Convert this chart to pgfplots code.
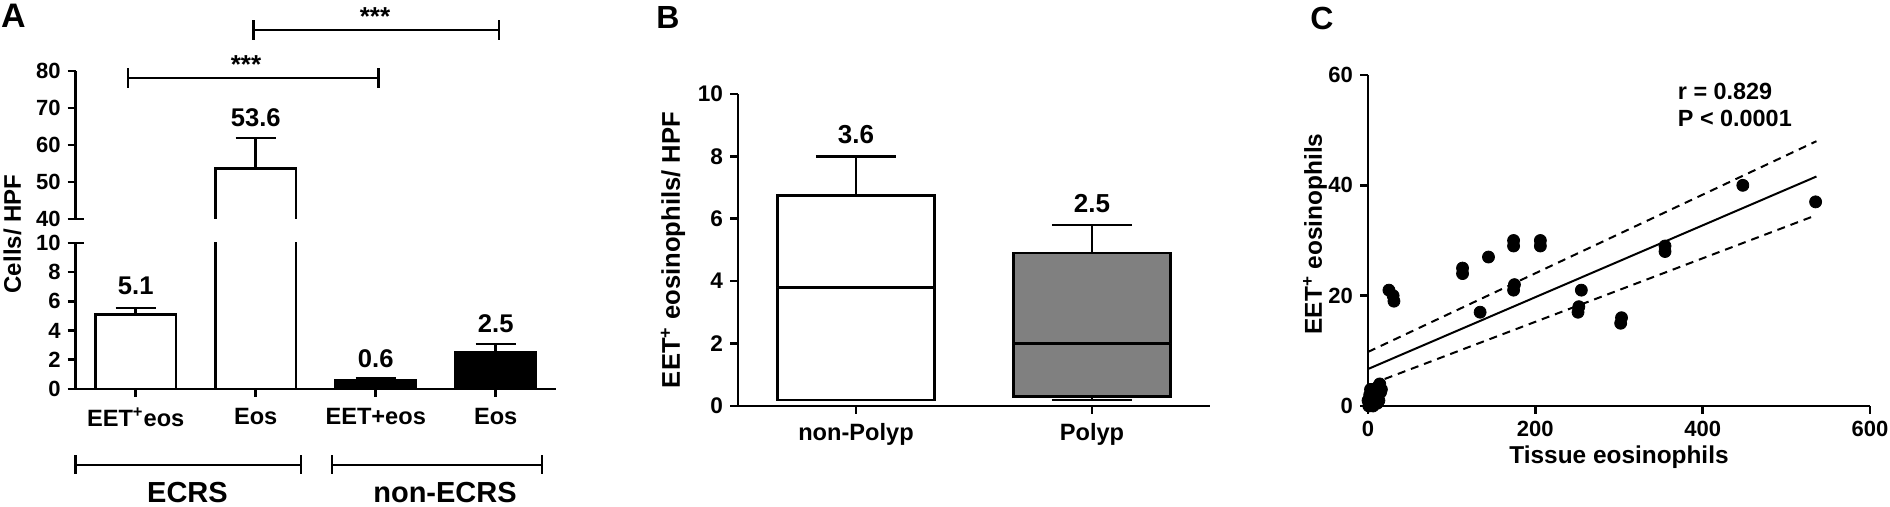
\documentclass[border=0pt]{standalone}
\usepackage{fontspec}
\setmainfont{Liberation Sans}
\usepackage{pgfplots}
\pgfplotsset{compat=1.18}
\usepgfplotslibrary{statistics}

\pgfplotsset{
  base/.style={
    scale only axis,
    axis line style={line width=1.3pt},
    every tick/.style={line width=1.3pt,black},
    tick align=outside,
    major tick length=4pt,
    /pgf/number format/assume math mode=true,
  },
  errs/.style={
    error bars/y dir=plus, error bars/y explicit,
    error bars/error bar style={line width=1.3pt},
    error bars/error mark options={line width=1.3pt, mark size=10pt, rotate=90}},
  bars/.style={ybar, bar shift=0pt, bar width=0.67, draw=black, line width=1.3pt, errs},
}

\begin{document}
\begin{tikzpicture}
\useasboundingbox (0,0) rectangle (945pt,253.5pt);

% ---- A: lower part 0-10
\begin{axis}[base, at={(37.85pt,59pt)}, anchor=south west,
  width=240pt, height=73pt,
  axis x line*=bottom, axis y line*=left,
  xmin=-0.5, xmax=3.5, ymin=0, ymax=10,
  ytick={0,2,...,10}, xtick={0,1,2,3},
  xticklabels={EET\textsuperscript{+}eos,Eos,EET+eos,Eos},
  tick label style={font=\bfseries\fontsize{11}{12}\selectfont},
  x tick label style={font=\bfseries\fontsize{11.8}{13}\selectfont, yshift=-2pt},
]
\addplot[bars, fill=white] coordinates {(0,5.1) +- (0,0.45) (1,53.6) +- (0,8.3)};
\addplot[bars, fill=black] coordinates {(2,0.6) +- (0,0.15) (3,2.5) +- (0,0.58)};
\node[font=\bfseries\fontsize{12.8}{14}\selectfont] at (axis cs:0,7.1) {5.1};
\node[font=\bfseries\fontsize{12.8}{14}\selectfont] at (axis cs:2,2.1) {0.6};
\node[font=\bfseries\fontsize{12.8}{14}\selectfont] at (axis cs:3,4.5) {2.5};
\end{axis}

% ---- A: upper part 40-80
\begin{axis}[base, at={(37.85pt,144pt)}, anchor=south west,
  width=240pt, height=74pt,
  axis x line=none, axis y line*=left,
  xmin=-0.5, xmax=3.5, ymin=40, ymax=80,
  ytick={40,50,...,80},
  tick label style={font=\bfseries\fontsize{11}{12}\selectfont},
]
% bar outline open at the bottom (broken axis), with its error bar
\addplot[black, line width=1.3pt] coordinates {(0.665,30) (0.665,53.6) (1.335,53.6) (1.335,30)};
\addplot[black, mark=none, draw=none, errs] coordinates {(1,53.6) +- (0,8.3)};
\node[font=\bfseries\fontsize{12.8}{14}\selectfont] at (axis cs:1,67.3) {53.6};
\end{axis}

% axis break marks
\draw[line width=1.3pt] (37.85pt,144pt) -- (42pt,144pt);
\draw[line width=1.3pt] (37.85pt,132pt) -- (42pt,132pt);

% ---- B
\begin{axis}[base, at={(369pt,50.5pt)}, anchor=south west,
  width=236pt, height=156pt,
  axis x line*=bottom, axis y line*=left,
  xmin=-0.5, xmax=1.5, ymin=0, ymax=10,
  ytick={0,2,...,10}, xtick={0,1},
  xticklabels={non-Polyp,Polyp},
  tick label style={font=\bfseries\fontsize{11.3}{12}\selectfont},
  x tick label style={font=\bfseries\fontsize{11.8}{13}\selectfont, yshift=-1pt},
  boxplot/draw direction=y,
]
\addplot[draw=black, fill=white, line width=1.2pt,
  boxplot prepared={draw position=0, lower whisker=0.2, lower quartile=0.2,
    median=3.8, upper quartile=6.75, upper whisker=8,
    box extend=0.665, whisker extend=0.34}] coordinates {};
\addplot[draw=black, fill={rgb,255:red,128;green,128;blue,128}, line width=1.2pt,
  boxplot prepared={draw position=1, lower whisker=0.2, lower quartile=0.3,
    median=2, upper quartile=4.9, upper whisker=5.8,
    box extend=0.665, whisker extend=0.34}] coordinates {};
\node[font=\bfseries\fontsize{13}{14}\selectfont] at (axis cs:0,8.7) {3.6};
\node[font=\bfseries\fontsize{13}{14}\selectfont] at (axis cs:1,6.5) {2.5};
\end{axis}

% ---- C
\begin{axis}[base, at={(684pt,50.5pt)}, anchor=south west,
  width=251pt, height=165.5pt,
  axis x line*=bottom, axis y line*=left,
  xmin=0, xmax=600, ymin=0, ymax=60,
  xtick={0,200,400,600}, ytick={0,20,40,60},
  tick label style={font=\bfseries\fontsize{11}{12}\selectfont},
  clip=false,
]
\addplot[black, line width=1pt] coordinates {(0,6.7) (536,41.6)};
\addplot[black, line width=1pt, dash pattern=on 4pt off 3pt] coordinates {(0,9.8) (536,48)};
\addplot[black, line width=1pt, dash pattern=on 4pt off 3pt] coordinates {(20,4.9) (536,34.6)};
\addplot[only marks, mark=*, mark size=3pt, black] coordinates {
  (25,21) (30,20) (31,19) (113,25) (113,24) (144,27) (134,17)
  (174,30) (174,29) (175,22) (174,21) (206,30) (206,29)
  (255,21) (252,18) (251,17) (303,16) (302,15) (355,29) (355,28)
  (448,40) (535,37)
  (0,1) (1,0) (2,2) (3,0.5) (4,1.5) (5,3) (6,0) (7,2) (8,1) (9,3)
  (10,2) (11,0.5) (12,3.5) (13,1) (14,4) (15,2.5) (16,3) (3,3) (6,2)
};
\node[anchor=west, align=left, font=\bfseries\fontsize{11.7}{13.5}\selectfont]
  at (axis cs:362,54.6) {r = 0.829\\P < 0.0001};
\end{axis}

% ---- annotations (absolute, 1px = 0.5pt)
\begin{scope}[line width=1.3pt]
  % significance brackets
  \draw (64pt,214.5pt) -- (189.3pt,214.5pt);
  \draw (64pt,209.5pt) -- (64pt,219.5pt);
  \draw (189.3pt,209.5pt) -- (189.3pt,219.5pt);
  \draw (126.8pt,238.5pt) -- (249.5pt,238.5pt);
  \draw (126.8pt,233.5pt) -- (126.8pt,243.5pt);
  \draw (249.5pt,233.5pt) -- (249.5pt,243.5pt);
  % group brackets
  \draw (37.85pt,21pt) -- (150.5pt,21pt);
  \draw (37.85pt,16.5pt) -- (37.85pt,26pt);
  \draw (150.5pt,16.5pt) -- (150.5pt,26pt);
  \draw (166pt,21pt) -- (271pt,21pt);
  \draw (166pt,16.5pt) -- (166pt,26pt);
  \draw (271pt,16.5pt) -- (271pt,26pt);
\end{scope}
\node[font=\bfseries\fontsize{13}{14}\selectfont] at (123pt,221pt) {***};
\node[font=\bfseries\fontsize{13}{14}\selectfont] at (187.5pt,245pt) {***};
\node[font=\bfseries\fontsize{14.5}{16}\selectfont] at (93.75pt,7pt) {ECRS};
\node[font=\bfseries\fontsize{14.5}{16}\selectfont] at (222.5pt,7pt) {non-ECRS};

% axis labels
\node[rotate=90, font=\bfseries\fontsize{12}{13}\selectfont] at (6.25pt,136.5pt) {Cells/ HPF};
\node[rotate=90, font=\bfseries\fontsize{12.8}{14}\selectfont] at (336.5pt,128.5pt) {EET\textsuperscript{+} eosinophils/ HPF};
\node[rotate=90, font=\bfseries\fontsize{12.2}{13}\selectfont] at (657.5pt,136.5pt) {EET\textsuperscript{+} eosinophils};
\node[font=\bfseries\fontsize{12.2}{13}\selectfont] at (809.5pt,25pt) {Tissue eosinophils};

% panel letters
\node[font=\bfseries\fontsize{17}{19}\selectfont] at (6.7pt,245.5pt) {A};
\node[font=\bfseries\fontsize{16}{18}\selectfont] at (334pt,244.5pt) {B};
\node[font=\bfseries\fontsize{16}{18}\selectfont] at (661pt,244.5pt) {C};
\end{tikzpicture}
\end{document}
